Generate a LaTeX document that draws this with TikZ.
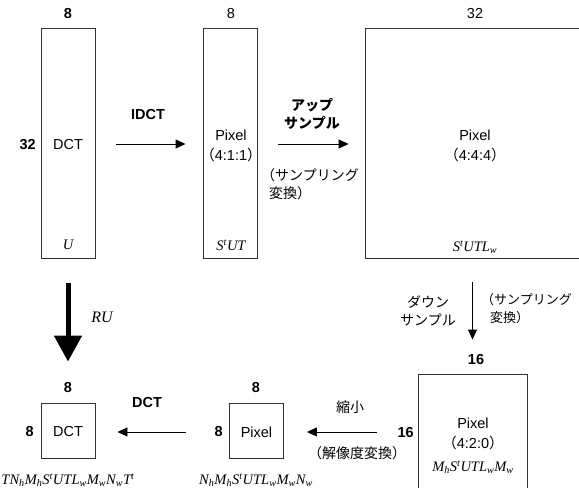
\documentclass[tikz,border=0pt]{standalone}
\usepackage{fontspec}
\setmainfont{Liberation Sans}
\newfontfamily\jp{Noto Sans CJK JP}
\newfontfamily\ser{Liberation Serif}
\usetikzlibrary{arrows.meta}
\newcommand\mlab[1]{{\ser\itshape\fontsize{14.5bp}{16bp}\selectfont #1}}
\newcommand\sbs[1]{\textsubscript{#1}}
\newcommand\sps[1]{\textsuperscript{#1}}
\begin{document}
\begin{tikzpicture}[x=1bp,y=-1bp,
  every node/.style={font=\fontsize{14.5bp}{16bp}\selectfont, inner sep=0pt},
  box/.style={draw, line width=0.9bp, draw=black!80},
  arr/.style={line width=0.9bp, -{Triangle[length=10bp,width=9bp]}},
  bigarr/.style={line width=5bp, -{Triangle[length=26bp,width=27bp]}},
  jtext/.style={font=\jp\fontsize{14bp}{18bp}\selectfont, align=left},
  lb/.style={font=\bfseries\fontsize{14.5bp}{16bp}\selectfont}]
\clip (0,0) rectangle (579,488);
% boxes
\node[box, minimum width=54bp, minimum height=230bp] (U) at (68,143) {};
\node[box, minimum width=54bp, minimum height=230bp] (S) at (230,143) {};
\node[box, minimum width=220bp, minimum height=230bp] (B) at (475,143) {};
\node[box, minimum width=109bp, minimum height=118bp] (C) at (472.5,433) {};
\node[box, minimum width=54bp, minimum height=55bp] (P) at (256.5,430.5) {};
\node[box, minimum width=54bp, minimum height=55bp] (D) at (68,430.5) {};
% U box texts
\node[lb] (u8) at (68,14) {8};
\node[lb, anchor=east] (u32) at (36,145) {32};
\node (ut) at (68,145) {DCT};
\node (um) at (68,245) {\mlab{U}};
% IDCT
\node[lb] (idct) at (148,115) {IDCT};
\draw[arr] ([xshift=21bp]U.east |- 0,144) -- ([xshift=-17bp]S.west |- 0,144);
% S box texts
\node (s8) at (231,14) {8};
\node (sp) at (231,135) {Pixel};
\node (sr) at (231,155) {{\jp （}4:1:1{\jp ）}};
\node (sm) at (231,245) {\mlab{S\sps{t}UT}};
% up-sample
\node[jtext, font=\jp\bfseries\fontsize{14bp}{18bp}\selectfont, align=center] (up) at (312,114) {アップ\\サンプル};
\draw[arr] ([xshift=21bp]S.east |- 0,144) -- ([xshift=-16bp]B.west |- 0,144);
\node[jtext, anchor=north west] (upc) at (261,168) {（サンプリング\\\hspace*{8bp}変換）};
% big box texts
\node (b32) at (475,14) {32};
\node (bp) at (475,135) {Pixel};
\node (br) at (475,155) {{\jp （}4:4:4{\jp ）}};
\node (bm) at (475,247) {\mlab{S\sps{t}UTL\sbs{w}}};
% down-sample
\draw[arr] ([yshift=-24bp]C.north |- B.south) -- ([yshift=34bp]C.north);
\node[jtext, align=center] (dn) at (428,311) {ダウン\\サンプル};
\node[jtext, font=\jp\fontsize{13bp}{18bp}\selectfont, anchor=north west] (dnc) at (481,293) {（サンプリング\\\hspace*{9bp}変換）};
% C box texts
\node[lb] (c16) at (476,360) {16};
\node[lb, anchor=east] (c16l) at (414,433) {16};
\node (cp) at (473,423) {Pixel};
\node (cr) at (473,443) {{\jp （}4:2:0{\jp ）}};
\node (cm) at (473,467) {\mlab{M\sbs{h}S\sps{t}UTL\sbs{w}M\sbs{w}}};
% reduce
\node[jtext] (sh) at (350,407) {縮小};
\draw[arr] ([xshift=-41bp]C.west |- 0,432) -- ([xshift=23bp]P.east |- 0,432);
\node[jtext] (shc) at (357,453) {（解像度変換）};
% P box texts
\node[lb] (p8) at (256,388) {8};
\node[lb, anchor=east] (p8l) at (223,432) {8};
\node (pt) at (256.5,432) {Pixel};
\node (pm) at (256,480) {\mlab{N\sbs{h}M\sbs{h}S\sps{t}UTL\sbs{w}M\sbs{w}N\sbs{w}}};
% DCT arrow
\node[lb] (dct) at (147,403) {DCT};
\draw[arr] ([xshift=-43bp]P.west |- 0,432) -- ([xshift=22bp]D.east |- 0,432);
% D box texts
\node[lb] (d8) at (68,388) {8};
\node[lb, anchor=east] (d8l) at (34,432) {8};
\node (dt) at (68,432) {DCT};
\node (dm) at (68,480) {\mlab{TN\sbs{h}M\sbs{h}S\sps{t}UTL\sbs{w}M\sbs{w}N\sbs{w}T\sps{t}}};
% RU
\draw[bigarr] ([yshift=-25bp]U.south) -- ([yshift=41bp]D.north);
\node (ru) at (102,317) {\ser\itshape\fontsize{16bp}{18bp}\selectfont RU};
\end{tikzpicture}
\end{document}
